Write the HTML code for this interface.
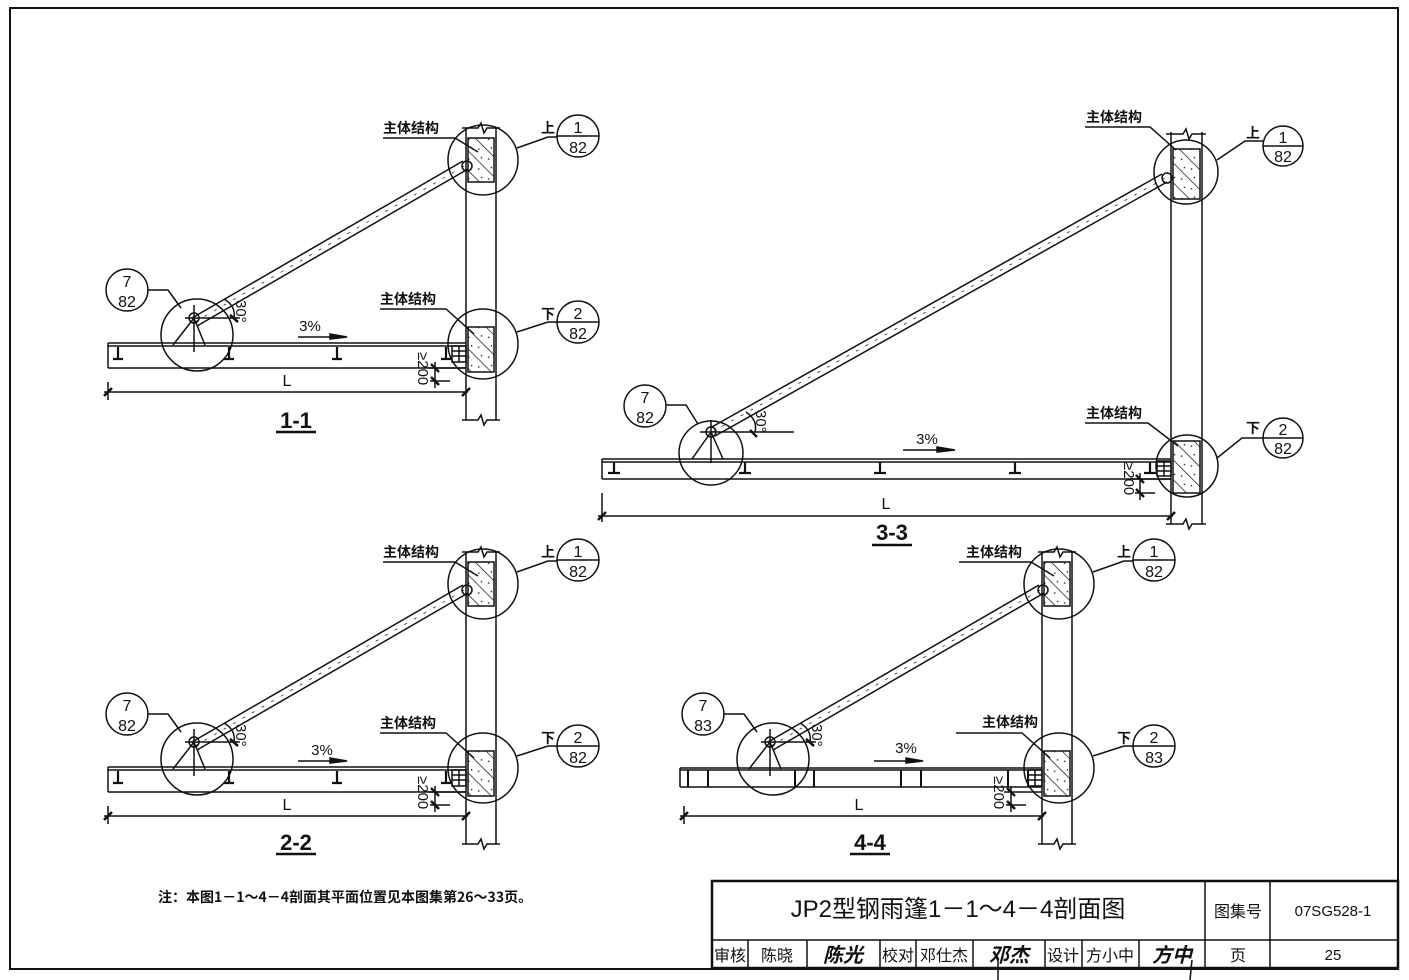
<!DOCTYPE html>
<html><head><meta charset="utf-8"><style>
html,body{margin:0;padding:0;background:#fff;}
svg{display:block;}
text{font-family:"Liberation Sans","Noto Sans CJK SC",sans-serif;fill:#111;}
.cn{font-family:"Noto Sans CJK SC","WenQuanYi Zen Hei",sans-serif;font-weight:bold;font-size:14px;}
</style></head><body>
<svg width="1409" height="980" viewBox="0 0 1409 980" xmlns="http://www.w3.org/2000/svg">
<defs>
<pattern id="h" width="14" height="14" patternUnits="userSpaceOnUse" patternTransform="rotate(-45)">
<line x1="0" y1="0" x2="0" y2="14" stroke="#111" stroke-width="1.4"/>
<circle cx="5" cy="4" r="0.8" fill="#111"/><circle cx="9" cy="10" r="0.8" fill="#111"/>
</pattern>
<!-- section template (1-1 geometry) -->
<g id="sec" fill="none" stroke="#111" stroke-width="1.5">
<!-- wall -->
<line x1="466" y1="128" x2="466" y2="420"/><line x1="496" y1="128" x2="496" y2="420"/>
<path d="M462 128 H478 L481 123 L484 133 L487 128 H500"/>
<path d="M462 420 H478 L481 415 L484 425 L487 420 H500"/>
<rect x="468" y="138" width="26" height="44" fill="url(#h)"/>
<rect x="468" y="327" width="26" height="45" fill="url(#h)"/>
<circle cx="483" cy="160" r="35"/>
<circle cx="483" cy="344" r="35"/>
<circle cx="467" cy="166" r="5"/>
<!-- brace -->
<line x1="192" y1="318" x2="463" y2="161"/>
<line x1="197" y1="326" x2="468" y2="169"/>
<line x1="195" y1="322" x2="466" y2="165" stroke-width="0.7" stroke-dasharray="3 8"/>
<!-- left joint -->
<circle cx="197" cy="335" r="36"/>
<circle cx="194" cy="318" r="5"/>
<line x1="194" y1="305" x2="194" y2="352"/>
<line x1="185" y1="318" x2="240" y2="318"/>
<line x1="194" y1="318" x2="173" y2="345"/>
<line x1="194" y1="318" x2="205" y2="345"/>
<!-- 30 deg -->
<path d="M224 299 Q236 306 234 318"/>
<line x1="230" y1="315" x2="238" y2="322" stroke-width="2.5"/>
<text x="236" y="300" font-size="15" transform="rotate(90 236 300)" stroke="none" fill="#111">30°</text>
<!-- bracket at wall -->
<rect x="452" y="346" width="14" height="16"/>
<line x1="452" y1="351" x2="466" y2="351"/><line x1="452" y1="356" x2="466" y2="356"/>
<line x1="459" y1="346" x2="459" y2="362"/>
<!-- >=200 dim -->
<line x1="428" y1="368" x2="466" y2="368"/>
<line x1="430" y1="381" x2="450" y2="381"/>
<line x1="435" y1="362" x2="435" y2="388"/>
<line x1="431" y1="364" x2="439" y2="372" stroke-width="2.5"/>
<line x1="431" y1="377" x2="439" y2="385" stroke-width="2.5"/>
<text x="418" y="352" font-size="15" transform="rotate(90 418 352)" stroke="none" fill="#111">≥200</text>
<!-- dim L -->
<line x1="104" y1="392" x2="468" y2="392"/>
<line x1="108" y1="382" x2="108" y2="400"/>
<line x1="104" y1="396" x2="112" y2="388" stroke-width="2.5"/>
<line x1="462" y1="396" x2="470" y2="388" stroke-width="2.5"/>
<!-- 3% arrow -->
<line x1="298" y1="337" x2="338" y2="337"/>
<path d="M330 334 L347 337 L330 339 Z" fill="#111"/>
<!-- leaders -->
<path d="M383 138 H455 L478 152"/>
<path d="M380 309 H446 L474 334"/>
<path d="M517 148 L548 137 H557"/>
<path d="M517 332 L548 322 H557"/>
<circle cx="578" cy="136" r="21"/><line x1="557" y1="136" x2="599" y2="136"/>
<circle cx="578" cy="322" r="21"/><line x1="557" y1="322" x2="599" y2="322"/>
<circle cx="127" cy="290" r="21"/><path d="M148 290 H168 L181 308"/>
</g>
<g id="tb" fill="none" stroke="#111" stroke-width="1.5">
<line x1="108" y1="343" x2="466" y2="343"/><line x1="108" y1="346" x2="466" y2="346"/>
<line x1="108" y1="368" x2="466" y2="368"/><line x1="108" y1="343" x2="108" y2="368"/>
</g>
<g id="st" stroke="#111" stroke-width="2.2" fill="none">
<path d="M0 0 V12 M-5 12 H5"/>
</g>
</defs>

<!-- frame -->
<rect x="10" y="8" width="1388" height="961" fill="none" stroke="#111" stroke-width="2"/>

<!-- 1-1 -->
<use href="#sec"/>
<use href="#tb"/>
<use href="#st" x="118" y="347"/><use href="#st" x="229" y="347"/><use href="#st" x="337" y="347"/><use href="#st" x="446" y="347"/>
<text x="310" y="331" font-size="15" text-anchor="middle">3%</text>
<text x="287" y="386" font-size="16" text-anchor="middle">L</text>
<text x="296" y="428" font-size="22" font-weight="bold" text-anchor="middle">1-1</text>
<line x1="276" y1="432" x2="316" y2="432" stroke="#111" stroke-width="2.5"/>
<text class="cn" x="383" y="133">主体结构</text>
<text class="cn" x="380" y="304">主体结构</text>
<text class="cn" x="541" y="133">上</text><text class="cn" x="541" y="319">下</text>
<text x="578" y="133" font-size="16" text-anchor="middle">1</text><text x="578" y="153" font-size="16" text-anchor="middle">82</text>
<text x="578" y="319" font-size="16" text-anchor="middle">2</text><text x="578" y="339" font-size="16" text-anchor="middle">82</text>
<text x="127" y="287" font-size="16" text-anchor="middle">7</text><text x="127" y="307" font-size="16" text-anchor="middle">82</text>

<!-- 2-2 -->
<g transform="translate(0,424)">
<use href="#sec"/><use href="#tb"/>
<use href="#st" x="118" y="347"/><use href="#st" x="229" y="347"/><use href="#st" x="337" y="347"/><use href="#st" x="446" y="347"/>
<text x="322" y="331" font-size="15" text-anchor="middle">3%</text>
<text x="287" y="386" font-size="16" text-anchor="middle">L</text>
<text x="296" y="426" font-size="22" font-weight="bold" text-anchor="middle">2-2</text>
<line x1="276" y1="430" x2="316" y2="430" stroke="#111" stroke-width="2.5"/>
<text class="cn" x="383" y="133">主体结构</text>
<text class="cn" x="380" y="304">主体结构</text>
<text class="cn" x="541" y="133">上</text><text class="cn" x="541" y="319">下</text>
<text x="578" y="133" font-size="16" text-anchor="middle">1</text><text x="578" y="153" font-size="16" text-anchor="middle">82</text>
<text x="578" y="319" font-size="16" text-anchor="middle">2</text><text x="578" y="339" font-size="16" text-anchor="middle">82</text>
<text x="127" y="287" font-size="16" text-anchor="middle">7</text><text x="127" y="307" font-size="16" text-anchor="middle">82</text>
</g>

<!-- 4-4 -->
<g transform="translate(576,424)">
<use href="#sec"/>
<g fill="none" stroke="#111" stroke-width="1.5">
<line x1="104" y1="344" x2="466" y2="344"/><line x1="104" y1="346" x2="466" y2="346"/>
<line x1="104" y1="363" x2="466" y2="363"/><line x1="104" y1="344" x2="104" y2="363"/>
</g>
<g stroke="#111" stroke-width="2">
<line x1="112" y1="346" x2="112" y2="363"/><line x1="132" y1="346" x2="132" y2="363"/>
<line x1="219" y1="346" x2="219" y2="363"/><line x1="238" y1="346" x2="238" y2="363"/>
<line x1="325" y1="346" x2="325" y2="363"/><line x1="345" y1="346" x2="345" y2="363"/>
<line x1="432" y1="346" x2="432" y2="363"/><line x1="452" y1="346" x2="452" y2="363"/>
</g>
<text x="330" y="329" font-size="15" text-anchor="middle">3%</text>
<text x="283" y="386" font-size="16" text-anchor="middle">L</text>
<text x="294" y="426" font-size="22" font-weight="bold" text-anchor="middle">4-4</text>
<line x1="274" y1="430" x2="314" y2="430" stroke="#111" stroke-width="2.5"/>
<text class="cn" x="390" y="133">主体结构</text>
<text class="cn" x="406" y="303">主体结构</text>
<text class="cn" x="541" y="133">上</text><text class="cn" x="541" y="319">下</text>
<text x="578" y="133" font-size="16" text-anchor="middle">1</text><text x="578" y="153" font-size="16" text-anchor="middle">82</text>
<text x="578" y="319" font-size="16" text-anchor="middle">2</text><text x="578" y="339" font-size="16" text-anchor="middle">83</text>
<text x="127" y="287" font-size="16" text-anchor="middle">7</text><text x="127" y="307" font-size="16" text-anchor="middle">83</text>
</g>

<!-- 3-3 -->
<g fill="none" stroke="#111" stroke-width="1.5">
<line x1="1171" y1="132" x2="1171" y2="524"/><line x1="1202" y1="132" x2="1202" y2="524"/>
<path d="M1166 134 H1183 L1186 129 L1189 139 L1192 134 H1206"/>
<path d="M1166 524 H1183 L1186 519 L1189 529 L1192 524 H1206"/>
<rect x="1173" y="149" width="27" height="50" fill="url(#h)"/>
<rect x="1173" y="441" width="27" height="52" fill="url(#h)"/>
<circle cx="1186" cy="172" r="32"/>
<circle cx="1187" cy="466" r="31"/>
<circle cx="1167" cy="178" r="5"/>
<line x1="710" y1="428" x2="1162" y2="174"/>
<line x1="715" y1="436" x2="1167" y2="182"/>
<line x1="712" y1="432" x2="1165" y2="178" stroke-width="0.7" stroke-dasharray="3 8"/>
<circle cx="711" cy="453" r="32"/>
<circle cx="711" cy="432" r="5"/>
<line x1="711" y1="420" x2="711" y2="463"/>
<line x1="700" y1="432" x2="794" y2="432"/>
<line x1="711" y1="432" x2="692" y2="459"/>
<line x1="711" y1="432" x2="723" y2="459"/>
<path d="M746 412 Q758 420 755 432"/>
<line x1="750" y1="430" x2="757" y2="437" stroke-width="2.5"/>
<line x1="602" y1="459" x2="1171" y2="459"/><line x1="602" y1="462" x2="1171" y2="462"/>
<line x1="602" y1="479" x2="1171" y2="479"/><line x1="602" y1="459" x2="602" y2="479"/>
<rect x="1157" y="461" width="14" height="15"/>
<line x1="1157" y1="466" x2="1171" y2="466"/><line x1="1157" y1="471" x2="1171" y2="471"/>
<line x1="1164" y1="461" x2="1164" y2="476"/>
<line x1="1130" y1="479" x2="1171" y2="479"/>
<line x1="1135" y1="493" x2="1155" y2="493"/>
<line x1="1140" y1="473" x2="1140" y2="500"/>
<line x1="1136" y1="475" x2="1144" y2="483" stroke-width="2.5"/>
<line x1="1136" y1="489" x2="1144" y2="497" stroke-width="2.5"/>
<line x1="598" y1="516" x2="1173" y2="516"/>
<line x1="602" y1="493" x2="602" y2="522"/>
<line x1="598" y1="520" x2="606" y2="512" stroke-width="2.5"/>
<line x1="1167" y1="520" x2="1175" y2="512" stroke-width="2.5"/>
<line x1="903" y1="450" x2="945" y2="450"/>
<path d="M937 447 L955 450 L937 452 Z" fill="#111"/>
<path d="M1085 127 H1150 L1176 150"/>
<path d="M1085 423 H1148 L1178 446"/>
<path d="M1217 160 L1245 141 H1263"/>
<path d="M1217 458 L1242 438 H1263"/>
<circle cx="1283" cy="146" r="20"/><line x1="1263" y1="146" x2="1303" y2="146"/>
<circle cx="1283" cy="438" r="20"/><line x1="1263" y1="438" x2="1303" y2="438"/>
<circle cx="645" cy="406" r="21"/><path d="M666 405 H686 L698 424"/>
</g>
<g stroke="#111" stroke-width="2.2" fill="none">
<path d="M614 462 V473 M608 473 H620"/><path d="M745 462 V473 M739 473 H751"/>
<path d="M880 462 V473 M874 473 H886"/><path d="M1015 462 V473 M1009 473 H1021"/>
<path d="M1150 462 V473 M1144 473 H1156"/>
</g>
<text x="756" y="410" font-size="15" transform="rotate(90 756 410)">30°</text>
<text x="1124" y="462" font-size="15" transform="rotate(90 1124 462)">≥200</text>
<text x="927" y="444" font-size="15" text-anchor="middle">3%</text>
<text x="886" y="509" font-size="16" text-anchor="middle">L</text>
<text x="892" y="540" font-size="22" font-weight="bold" text-anchor="middle">3-3</text>
<line x1="872" y1="545" x2="912" y2="545" stroke="#111" stroke-width="2.5"/>
<text class="cn" x="1086" y="122">主体结构</text>
<text class="cn" x="1086" y="418">主体结构</text>
<text class="cn" x="1246" y="138">上</text><text class="cn" x="1246" y="433">下</text>
<text x="1283" y="143" font-size="16" text-anchor="middle">1</text><text x="1283" y="162" font-size="16" text-anchor="middle">82</text>
<text x="1283" y="435" font-size="16" text-anchor="middle">2</text><text x="1283" y="454" font-size="16" text-anchor="middle">82</text>
<text x="645" y="403" font-size="16" text-anchor="middle">7</text><text x="645" y="423" font-size="16" text-anchor="middle">82</text>

<!-- note -->
<text class="cn" x="158" y="902" font-size="14">注：本图1－1～4－4剖面其平面位置见本图集第26～33页。</text>

<!-- title block -->
<g fill="none" stroke="#111" stroke-width="1.5">
<rect x="712" y="881" width="686" height="87" stroke-width="2.5"/>
<line x1="712" y1="940" x2="1398" y2="940"/>
<line x1="1205" y1="881" x2="1205" y2="968"/><line x1="1270" y1="881" x2="1270" y2="968"/>
<line x1="748" y1="940" x2="748" y2="968"/><line x1="807" y1="940" x2="807" y2="968"/>
<line x1="880" y1="940" x2="880" y2="968"/><line x1="916" y1="940" x2="916" y2="968"/>
<line x1="973" y1="940" x2="973" y2="968"/><line x1="1045" y1="940" x2="1045" y2="968"/>
<line x1="1082" y1="940" x2="1082" y2="968"/><line x1="1139" y1="940" x2="1139" y2="968"/>
</g>
<text x="958" y="917" font-size="24" text-anchor="middle" font-family="'Noto Sans CJK SC',sans-serif">JP2型钢雨篷1－1～4－4剖面图</text>
<text x="1238" y="917" font-size="16" text-anchor="middle" font-family="'Noto Sans CJK SC',sans-serif">图集号</text>
<text x="1333" y="916" font-size="15" text-anchor="middle">07SG528-1</text>
<g font-size="16" text-anchor="middle" font-family="'Noto Sans CJK SC',sans-serif">
<text x="730" y="961">审核</text><text x="777" y="961">陈晓</text>
<text x="898" y="961">校对</text><text x="944" y="961">邓仕杰</text>
<text x="1063" y="961">设计</text><text x="1110" y="961">方小中</text>
<text x="1238" y="961">页</text>
</g>
<text x="1333" y="960" font-size="15" text-anchor="middle">25</text>
<text x="843" y="962" font-size="20" font-style="italic" font-weight="bold" text-anchor="middle" font-family="'Noto Sans CJK SC',sans-serif">陈光</text>
<text x="1009" y="962" font-size="20" font-style="italic" font-weight="bold" text-anchor="middle" font-family="'Noto Sans CJK SC',sans-serif">邓杰</text>
<text x="1172" y="962" font-size="20" font-style="italic" font-weight="bold" text-anchor="middle" font-family="'Noto Sans CJK SC',sans-serif">方中</text>
<line x1="998" y1="960" x2="998" y2="980" stroke="#111" stroke-width="1.5"/>
<line x1="1192" y1="960" x2="1190" y2="980" stroke="#111" stroke-width="1.5"/>
</svg>
</body></html>
